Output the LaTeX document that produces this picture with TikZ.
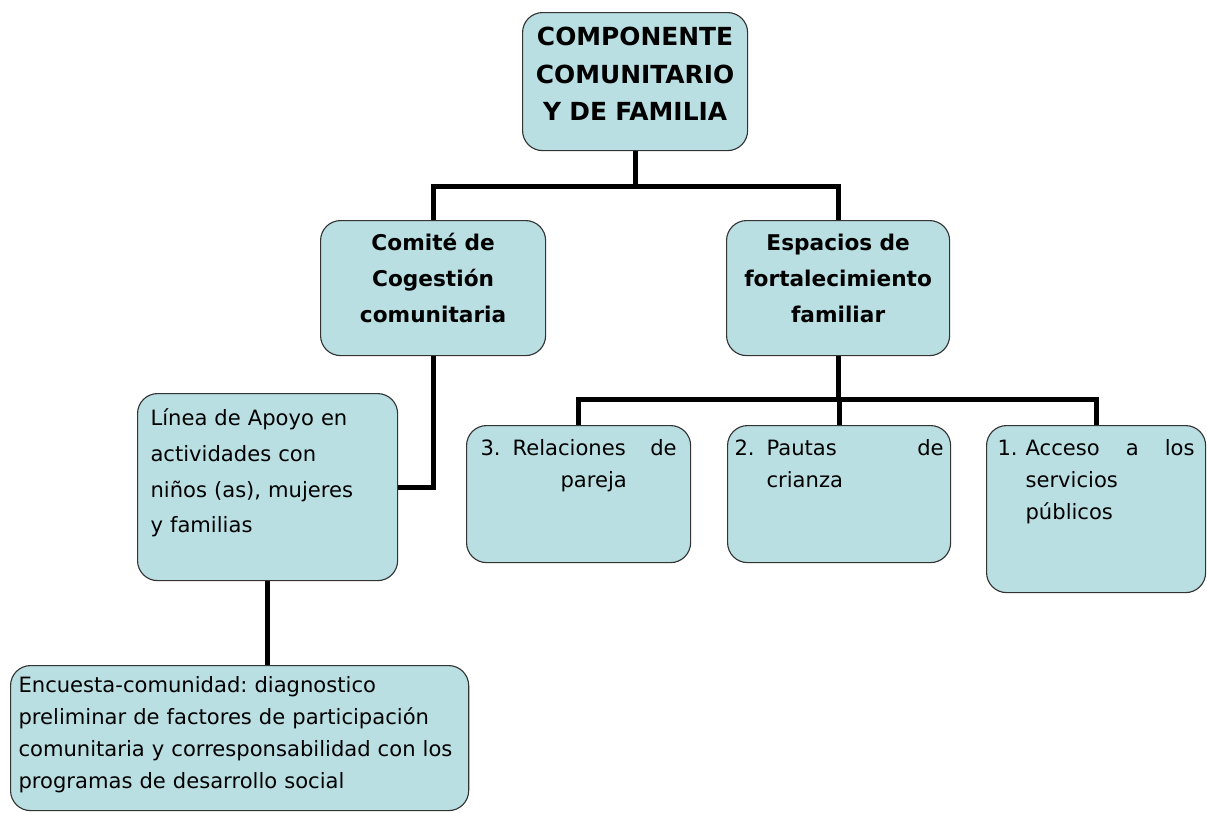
\documentclass[tikz,border=0pt]{standalone}
\usepackage{fontspec}
\setmainfont{DejaVu Sans}
\frenchspacing

\definecolor{boxblue}{RGB}{185,223,227}
\newcommand{\wordfill}{\hspace{0pt plus 1filll}}

\begin{document}
\begin{tikzpicture}[x=0.025cm, y=-0.025cm]
	\def\radius{0.5cm} % Corner radius of the boxes
	\def\linkwidth{3.6pt} % Width of the connectors

	\tikzset{
		box/.style={draw=black!80, line width=0.8pt, fill=boxblue, rounded corners=\radius,
			anchor=north west, inner ysep=0pt},
		head/.style={box, align=center, font=\bfseries\fontsize{15.4}{25.5}\selectfont,
			inner xsep=0.1cm, text height=0.75cm, text depth=2.625cm},
		body/.style={box, align=left, font=\fontsize{15}{22.8}\selectfont},
		link/.style={line width=\linkwidth}
	}

	% Page size of the picture
	\useasboundingbox (0,0) rectangle (1207,812);

	% Top box
	\node[box, align=center, font=\bfseries\fontsize{17.7}{26.7}\selectfont, inner xsep=0.1cm,
		text width=5.425cm, text height=0.825cm, text depth=2.625cm] (top) at (522,12)
		{COMPONENTE\\COMUNITARIO\\Y DE FAMILIA};

	% Second level
	\node[head, text width=5.425cm] (com) at (320,220) {Comité de\\Cogestión\\comunitaria};
	\node[head, text width=5.375cm] (esp) at (726,220) {Espacios de\\fortalecimiento\\familiar};

	% Boxes under the committee
	\node[body, font=\fontsize{15}{25.4}\selectfont, inner xsep=0.325cm, text width=5.85cm,
		text height=0.8cm, text depth=3.875cm] (lin) at (137,393)
		{Línea de Apoyo en\\actividades con\\niños (as), mujeres\\y familias};
	\node[body, inner xsep=0.2cm, text width=11.05cm, text height=0.675cm, text depth=2.95cm]
		(enc) at (10,665)
		{Encuesta-comunidad: diagnostico\\preliminar de factores de participación\\comunitaria y corresponsabilidad con los\\programas de desarrollo social};

	% Boxes under the family spaces
	\node[body, inner xsep=0.35cm, text width=4.9cm, text height=0.75cm, text depth=2.675cm]
		(rel) at (466,425)
		{\makebox[0.8cm][l]{3.}Relaciones \wordfill de\\\hspace*{2cm}pareja};
	\node[body, inner xsep=0.175cm, text width=5.225cm, text height=0.75cm, text depth=2.675cm]
		(pau) at (727,425)
		{\makebox[0.8cm][l]{2.}Pautas \wordfill de\\\hspace*{0.8cm}crianza};
	\node[body, inner xsep=0.275cm, text width=4.925cm, text height=0.75cm, text depth=3.425cm]
		(acc) at (986,425)
		{\makebox[0.7cm][l]{1.}Acceso \wordfill a \wordfill los\\\hspace*{0.7cm}servicios\\\hspace*{0.7cm}públicos};

	% Connectors
	\draw[link] (top.south) -- ++(0,35) -| (com.north);
	\draw[link] (top.south) -- ++(0,35) -| (esp.north);
	\draw[link] (com.south) |- (lin.east);
	\draw[link] (lin.south) -- (lin.south |- enc.north);
	\foreach \child in {rel, pau, acc} {
		\draw[link] (esp.south) -- ++(0,43) -| (\child.north);
	}
\end{tikzpicture}
\end{document}
